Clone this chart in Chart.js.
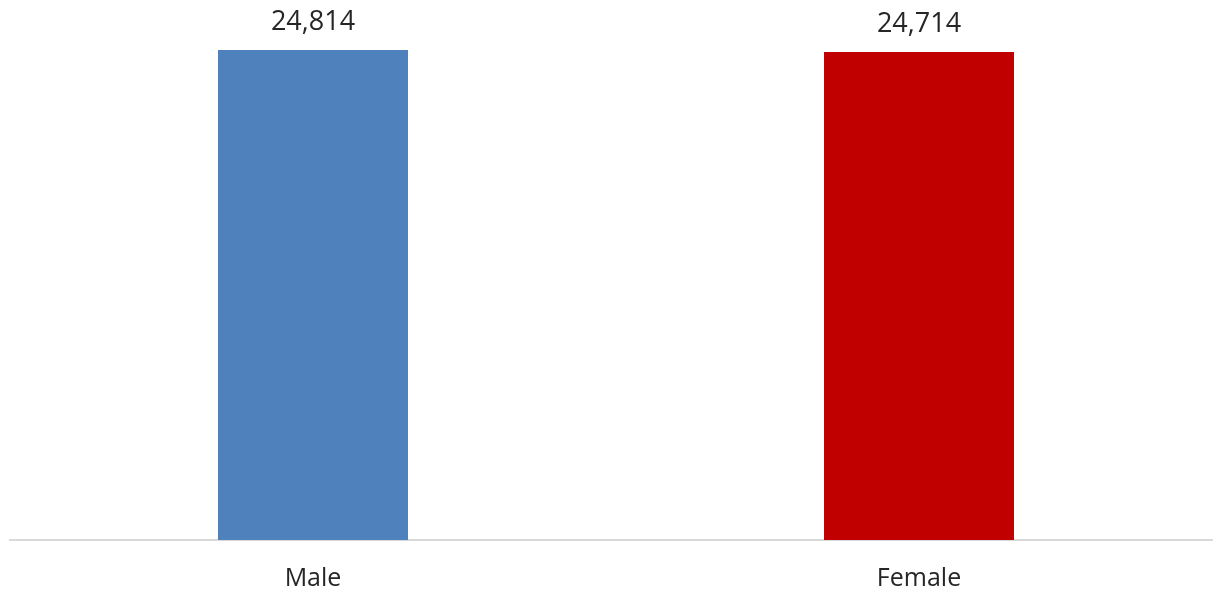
<!DOCTYPE html>
<html>
<head>
<meta charset="utf-8">
<script src="https://cdn.jsdelivr.net/npm/chart.js@4"></script>
<style>
  html, body { margin: 0; padding: 0; background: #fff; overflow: hidden; }
  #wrap { width: 1213px; height: 593px; overflow: hidden; }
</style>
</head>
<body>
<div id="wrap"><canvas id="genderChart" width="1222" height="610"></canvas></div>
<script>
var categories = ['Male', 'Female'];
var counts = [24814, 24714];
var barColors = ['#4f81bd', '#c00000'];

// draws the value above each bar, Excel style
var valueLabels = {
  id: 'valueLabels',
  afterDatasetsDraw: function (chart) {
    var c = chart.ctx;
    var meta = chart.getDatasetMeta(0);
    c.save();
    c.font = '27px "Open Sans"';
    c.fillStyle = '#262626';
    c.textAlign = 'center';
    c.textBaseline = 'alphabetic';
    meta.data.forEach(function (bar, i) {
      c.fillText(counts[i].toLocaleString('en-US'), bar.x, bar.y - 20);
    });
    c.restore();
  }
};

var ctx = document.getElementById('genderChart').getContext('2d');
var genderChart = new Chart(ctx, {
  type: 'bar',
  data: {
    labels: categories,
    datasets: [{
      data: counts,
      backgroundColor: barColors,
      borderWidth: 0,
      barPercentage: 0.3135,
      categoryPercentage: 1
    }]
  },
  options: {
    responsive: false,
    animation: false,
    events: [],
    layout: { padding: { top: 50, left: 10, right: 0, bottom: 0 } },
    plugins: { legend: { display: false }, tooltip: { enabled: false } },
    scales: {
      x: {
        grid: { display: false },
        border: { display: true, color: '#d9d9d9', width: 2 },
        ticks: { color: '#262626', font: { family: 'Open Sans', size: 25 }, padding: 16 }
      },
      y: {
        display: false,
        min: 0,
        max: 24814
      }
    }
  },
  plugins: [valueLabels]
});
</script>
</body>
</html>
